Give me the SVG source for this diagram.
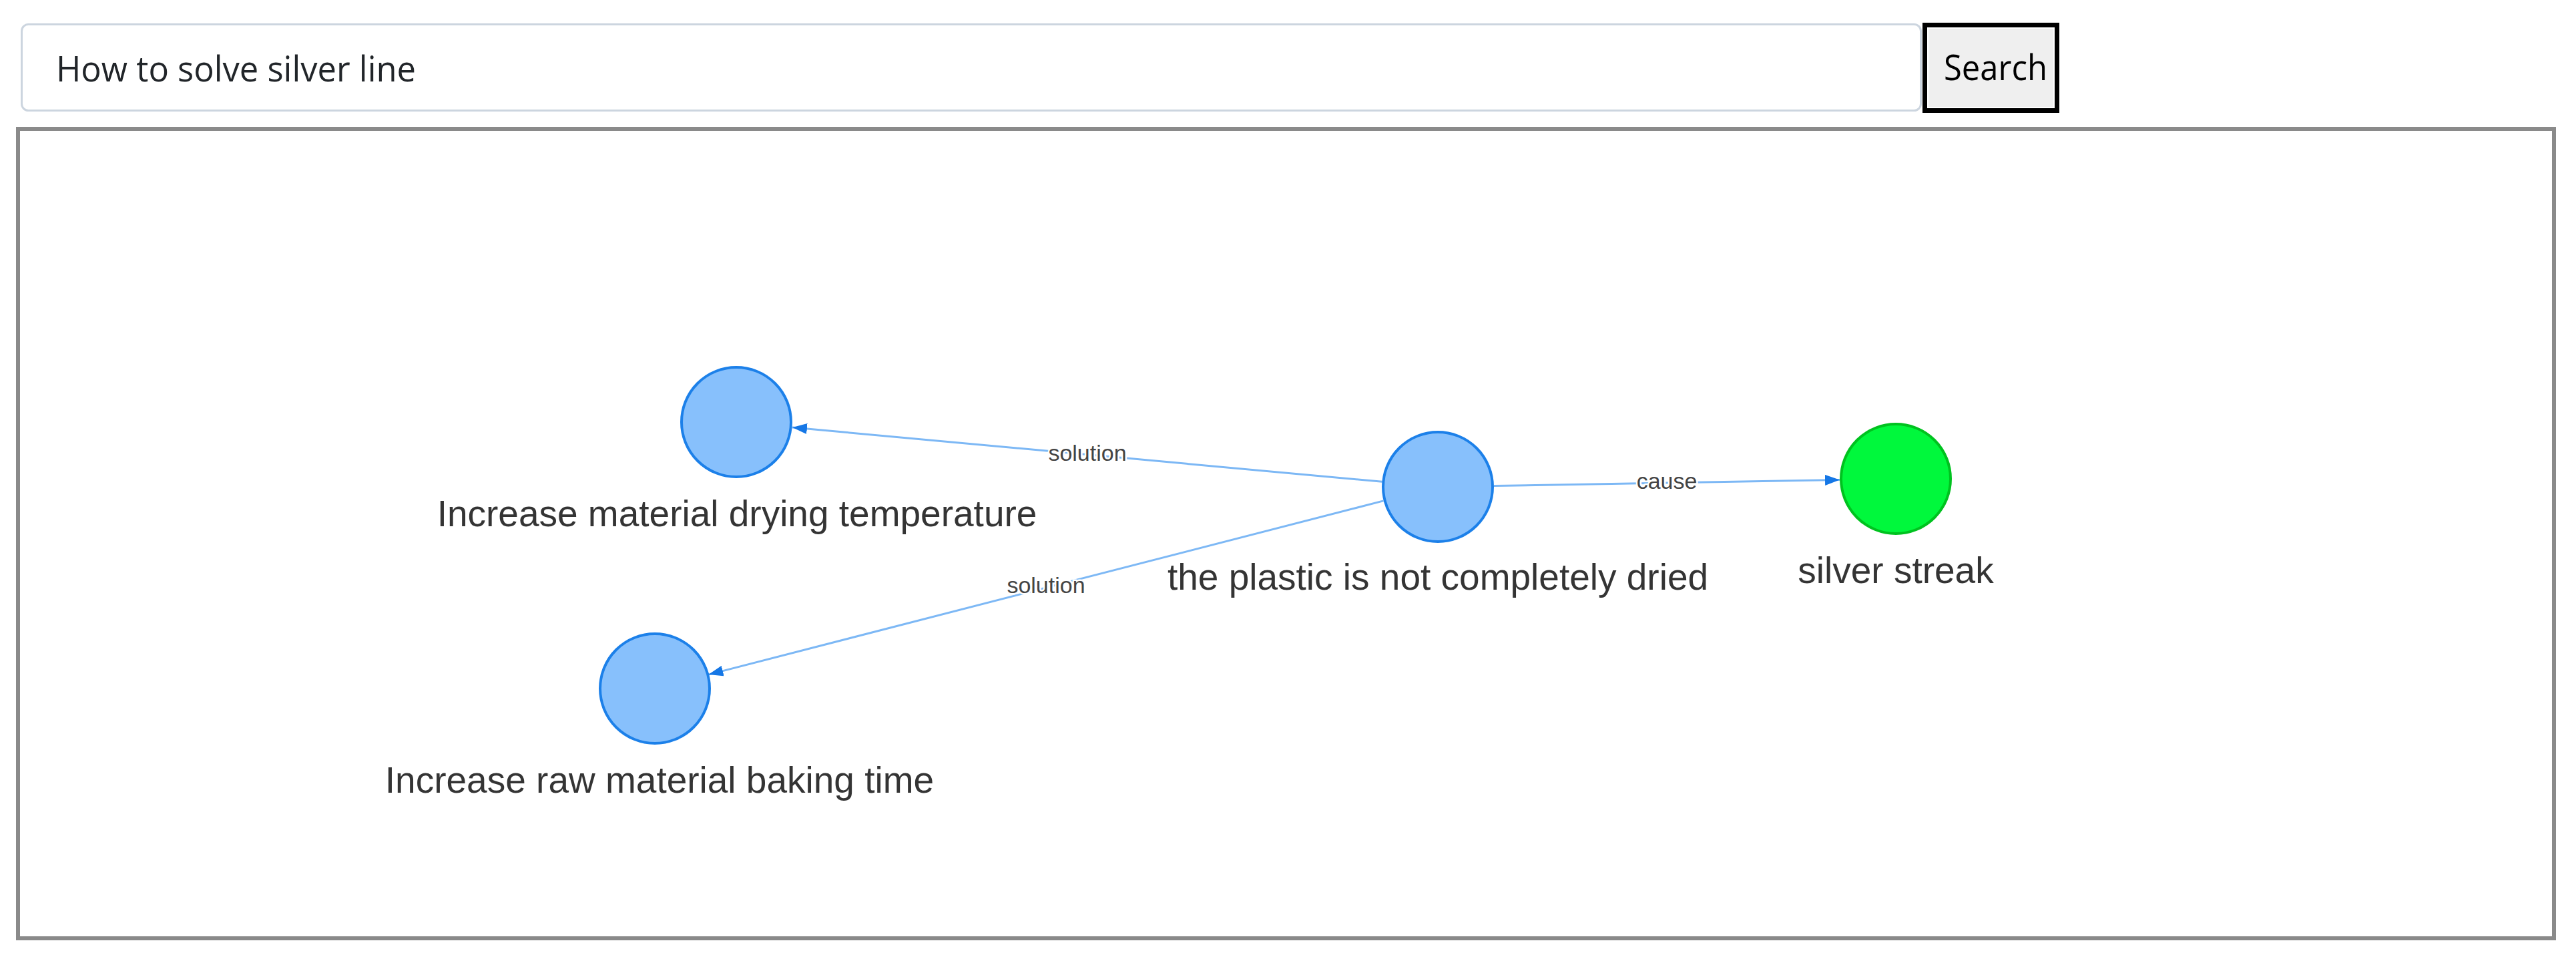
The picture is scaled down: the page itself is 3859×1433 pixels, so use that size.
<svg xmlns="http://www.w3.org/2000/svg" width="3859" height="1433" viewBox="0 0 3859 1433">
<style>
.node-blue{fill:#87C0FC;stroke:#1C80E9;stroke-width:4}
.node-green{fill:#00F83C;stroke:#00C21F;stroke-width:4}
.nlabel{font-family:"Liberation Sans",Arial,sans-serif;font-size:55px;fill:#343434;text-anchor:middle}
.elabel{font-family:"Liberation Sans",Arial,sans-serif;font-size:34px;fill:#444444;text-anchor:middle;stroke:#ffffff;stroke-width:5;paint-order:stroke;stroke-linejoin:round}
.edge{stroke:#7DB8F5;stroke-width:3;fill:none;marker-end:url(#arrow)}
.ui{font-family:"Open Sans","Noto Sans",sans-serif;font-size:53px}
</style>
<defs>
<marker id="arrow" markerUnits="userSpaceOnUse" markerWidth="22" markerHeight="16" refX="22" refY="8" orient="auto">
<path d="M0,0 L22,8 L0,16 z" fill="#1577E6"/>
</marker>
</defs>
<rect width="3859" height="1433" fill="#ffffff"/>
<g id="search-input">
<rect x="32.5" y="36.5" width="2845" height="129" rx="10" fill="#ffffff" stroke="#CCD5DF" stroke-width="3"/>
<text class="ui" x="84" y="122" fill="#212529" textLength="539" lengthAdjust="spacingAndGlyphs">How to solve silver line</text>
</g>
<g id="search-button">
<rect x="2883.5" y="37.5" width="198" height="128" fill="#000000" stroke="#000000" stroke-width="7"/>
<rect x="2888" y="42" width="189" height="119" fill="#EFEFEF" stroke="#ffffff" stroke-width="2"/>
<text class="ui" x="2912" y="120" fill="#000000" textLength="155" lengthAdjust="spacingAndGlyphs">Search</text>
</g>
<g id="panel">
<rect x="27" y="193" width="3799" height="1212" fill="#ffffff" stroke="#8A8A8A" stroke-width="6"/>
</g>
<g id="connectors">
<line class="edge" x1="2070.4" y1="721.3" x2="1187" y2="640"/>
<line class="edge" x1="2072.6" y1="749.9" x2="1061.4" y2="1010.1"/>
<line class="edge" x1="2238" y1="727.5" x2="2756" y2="718.5"/>
<text class="elabel" x="1629" y="690">solution</text>
<text class="elabel" x="1567" y="888">solution</text>
<text class="elabel" x="2497" y="732">cause</text>
</g>
<g id="node-drying-temperature">
<circle class="node-blue" cx="1103" cy="632" r="82"/>
<text class="nlabel" x="1104" y="788">Increase material drying temperature</text>
</g>
<g id="node-not-dried">
<circle class="node-blue" cx="2154" cy="729" r="82"/>
<text class="nlabel" x="2154" y="883">the plastic is not completely dried</text>
</g>
<g id="node-silver-streak">
<circle class="node-green" cx="2840" cy="717" r="82"/>
<text class="nlabel" x="2840" y="873">silver streak</text>
</g>
<g id="node-baking-time">
<circle class="node-blue" cx="981" cy="1031" r="82"/>
<text class="nlabel" x="988" y="1187">Increase raw material baking time</text>
</g>
</svg>
